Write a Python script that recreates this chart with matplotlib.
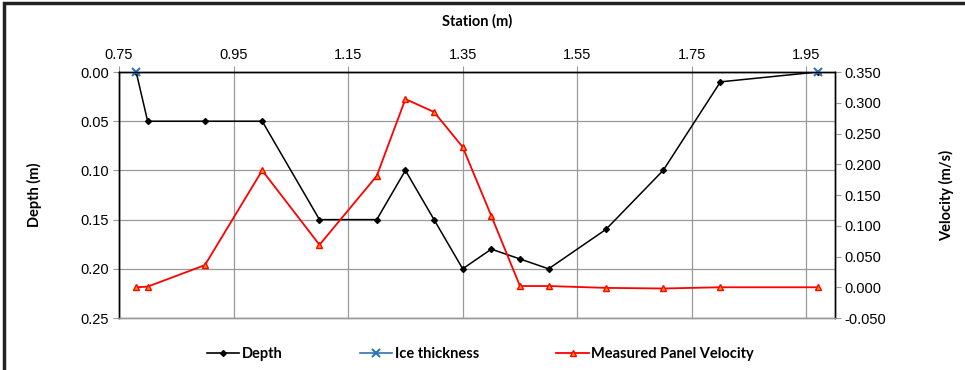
import matplotlib.pyplot as plt
from matplotlib.lines import Line2D
from matplotlib.patches import Rectangle
from matplotlib.ticker import FormatStrFormatter, MultipleLocator

# station (m) and measured depth (m)
station = [0.78, 0.80, 0.90, 1.00, 1.10, 1.20, 1.25, 1.30, 1.35, 1.40,
           1.45, 1.50, 1.60, 1.70, 1.80, 1.97]
depth = [0.00, 0.05, 0.05, 0.05, 0.15, 0.15, 0.10, 0.15, 0.20, 0.18,
         0.19, 0.20, 0.16, 0.10, 0.01, 0.00]

# ice thickness points at the edges
ice_station = [0.78, 1.97]
ice_thickness = [0.00, 0.00]

# measured panel velocity (m/s)
velocity = [0.000, 0.001, 0.036, 0.190, 0.069, 0.181, 0.306, 0.285, 0.228, 0.116,
            0.002, 0.002, -0.001, -0.002, 0.000, 0.000]

tick_font = ['Liberation Sans', 'DejaVu Sans']
label_font = ['Lato', 'DejaVu Sans']


def plot_profile():
    fig = plt.figure(figsize=(9.65, 3.7), dpi=100)
    ax = fig.add_axes([0.1233, 0.1405, 0.742, 0.6649])
    ax2 = ax.twinx()

    # frame around the chart area
    fig.patches.append(Rectangle((4 / 965, -0.05), 1.2, 1.05 - 3 / 370,
                                 transform=fig.transFigure, fill=False,
                                 edgecolor='#222222', linewidth=2.5))

    ax.plot(station, depth, color='black', marker='D', markersize=3,
            linewidth=1.1, zorder=3)
    ax.plot(ice_station, ice_thickness, color='#2E75B6', marker='x',
            markersize=6, markeredgewidth=1.5, linestyle='none', zorder=4,
            clip_on=False)
    ax2.plot(station, velocity, color='red', marker='^', markersize=4.5,
             markerfacecolor='#FF9900', markeredgecolor='red', linewidth=1.3)

    ax.set_xlim(0.75, 2.0)
    ax.set_xticks([0.75, 0.95, 1.15, 1.35, 1.55, 1.75, 1.95])
    ax.xaxis.set_major_formatter(FormatStrFormatter('%.2f'))
    ax.xaxis.tick_top()
    ax.xaxis.set_label_position('top')

    ax.set_ylim(0.25, 0.0)
    ax.yaxis.set_major_locator(MultipleLocator(0.05))
    ax.yaxis.set_major_formatter(FormatStrFormatter('%.2f'))

    ax2.set_ylim(-0.05, 0.35)
    ax2.yaxis.set_major_locator(MultipleLocator(0.05))
    ax2.yaxis.set_major_formatter(FormatStrFormatter('%.3f'))

    ax.grid(True, color='#9a9a9a', linewidth=0.9)
    ax.set_axisbelow(True)

    for a in (ax, ax2):
        a.tick_params(direction='out', length=4, width=0.8, color='#9a9a9a',
                      labelsize=10.5, pad=3)
        for lab in a.get_xticklabels() + a.get_yticklabels():
            lab.set_family(tick_font)
        for s in a.spines.values():
            s.set_color('black')
            s.set_linewidth(1.0)
        a.spines['bottom'].set_color('#9a9a9a')

    ax.set_xlabel('Station (m)', fontsize=10.5, fontweight='bold',
                  family=label_font, labelpad=16)
    ax.set_ylabel('Depth (m)', fontsize=10.5, fontweight='bold',
                  family=label_font, labelpad=28)
    ax2.set_ylabel('Velocity (m/s)', fontsize=10.5, fontweight='bold',
                   family=label_font, labelpad=38)

    handles = [
        Line2D([], [], color='black', marker='D', markersize=3, linewidth=1.2),
        Line2D([], [], color='#2E75B6', marker='x', markersize=6,
               markeredgewidth=1.5, linewidth=1.2),
        Line2D([], [], color='red', marker='^', markersize=4.5,
               markerfacecolor='#FF9900', markeredgecolor='red', linewidth=1.3),
    ]
    fig.legend(handles, ['Depth', 'Ice thickness', 'Measured Panel Velocity'],
               loc='center', bbox_to_anchor=(0.498, 0.043), ncol=3,
               frameon=False, handlelength=2.2, handletextpad=0.2,
               columnspacing=5.3, prop={'family': label_font, 'weight': 'bold',
                                        'size': 10.5})

    fig.savefig('out.png', dpi=100)


def main():
    plot_profile()


if __name__ == '__main__':
    main()
